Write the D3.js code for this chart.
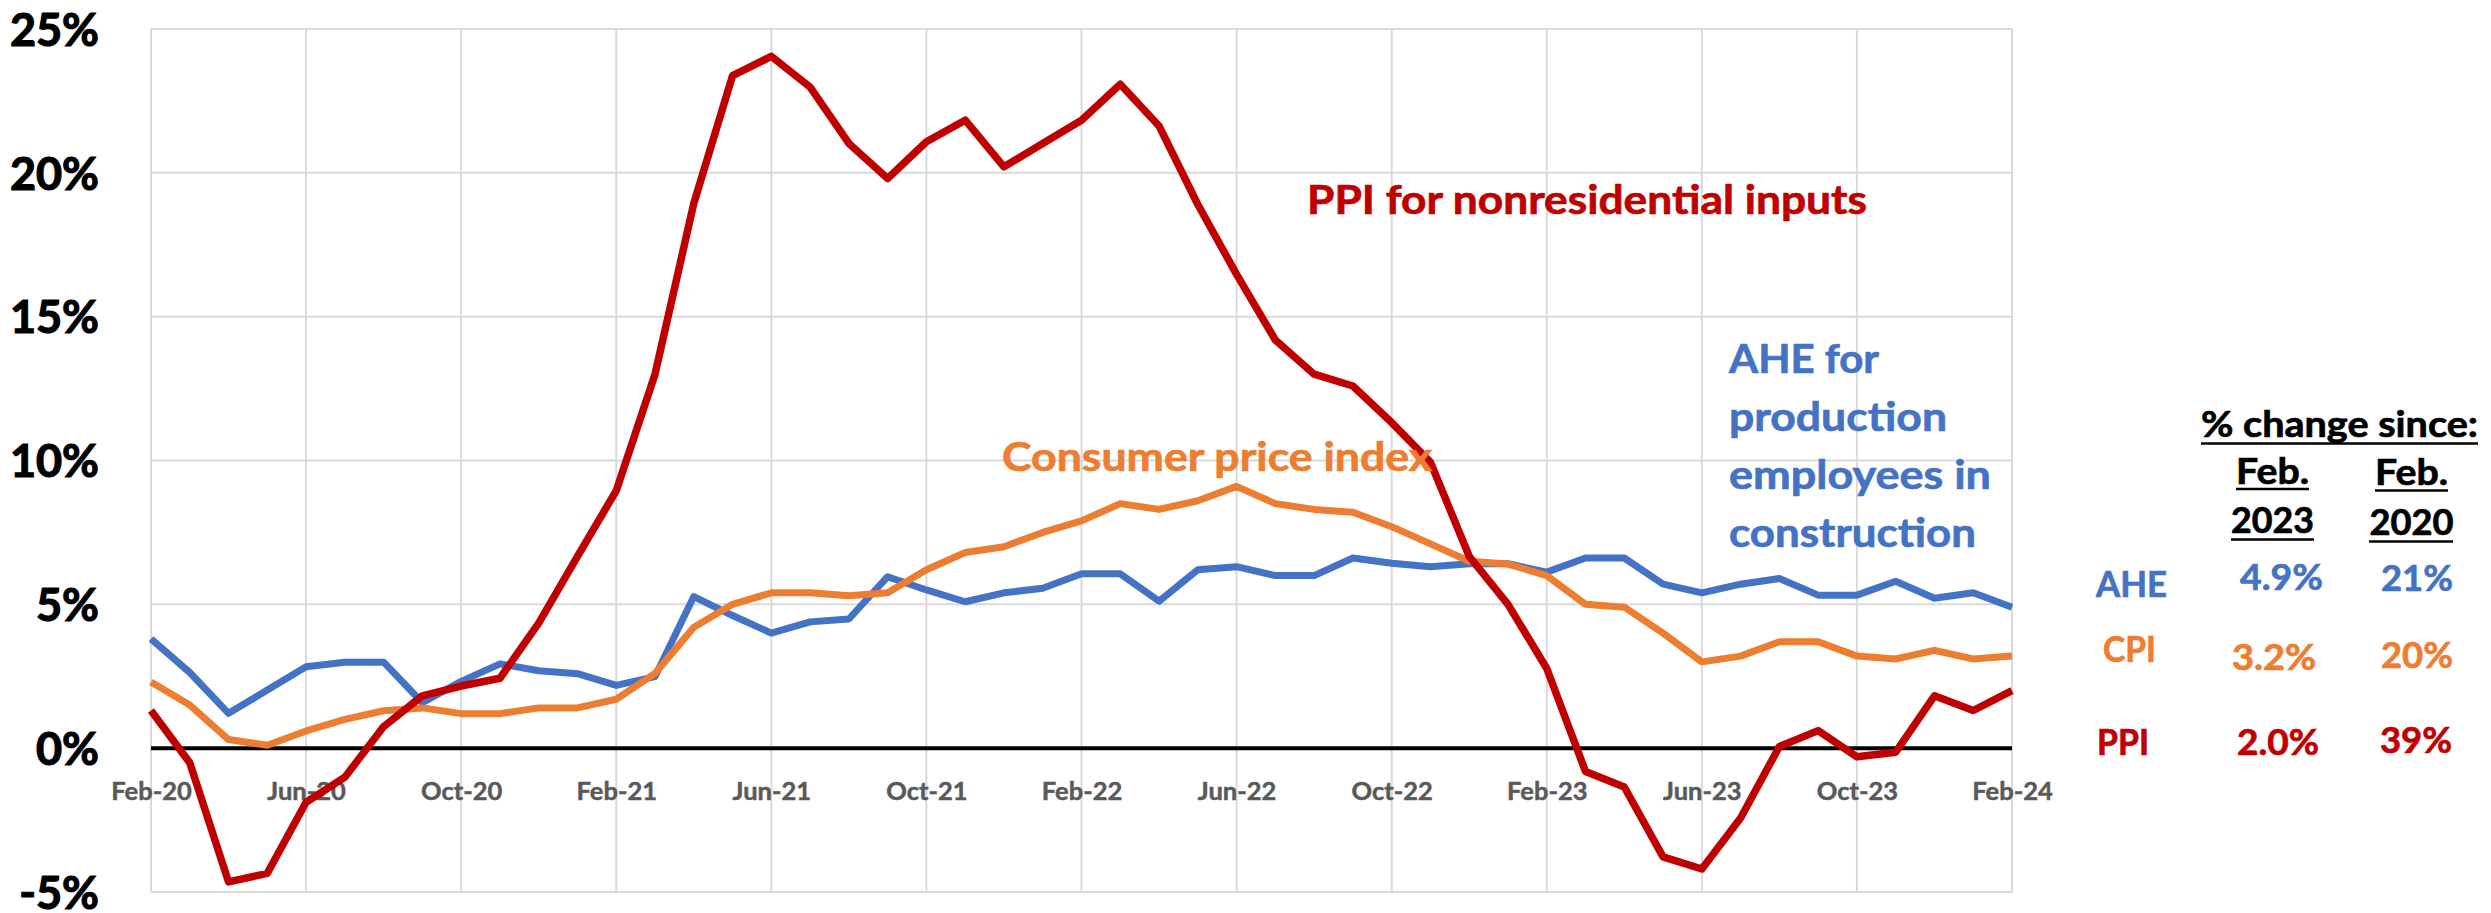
<!DOCTYPE html>
<html>
<head>
<meta charset="utf-8">
<script src="https://cdn.jsdelivr.net/npm/d3@7"></script>
<style>
  html, body { margin: 0; padding: 0; background: #ffffff; }
  svg { display: block; }
  text { font-family: Lato, "Noto Sans", sans-serif; font-weight: 700; }
</style>
</head>
<body>
<svg id="chart" width="2491" height="913"></svg>
<script>
// ---------------- DATA ----------------
const months = [
  "Feb-20","Mar-20","Apr-20","May-20","Jun-20","Jul-20","Aug-20","Sep-20","Oct-20","Nov-20","Dec-20",
  "Jan-21","Feb-21","Mar-21","Apr-21","May-21","Jun-21","Jul-21","Aug-21","Sep-21","Oct-21","Nov-21","Dec-21",
  "Jan-22","Feb-22","Mar-22","Apr-22","May-22","Jun-22","Jul-22","Aug-22","Sep-22","Oct-22","Nov-22","Dec-22",
  "Jan-23","Feb-23","Mar-23","Apr-23","May-23","Jun-23","Jul-23","Aug-23","Sep-23","Oct-23","Nov-23","Dec-23",
  "Jan-24","Feb-24"
];

// Average hourly earnings, production employees in construction (y/y %)
const aheValues = [
  3.80, 2.63, 1.21, 2.02, 2.83, 2.99, 2.99, 1.58, 2.32, 2.93, 2.69,
  2.59, 2.18, 2.49, 5.27, 4.61, 4.00, 4.39, 4.49, 5.96, 5.50, 5.09, 5.40,
  5.56, 6.06, 6.06, 5.11, 6.20, 6.31, 6.00, 6.00, 6.61, 6.43, 6.31, 6.41,
  6.41, 6.12, 6.61, 6.61, 5.70, 5.40, 5.70, 5.90, 5.32, 5.32, 5.80, 5.21,
  5.40, 4.90
];

// Consumer price index (y/y %)
const cpiValues = [
  2.3, 1.5, 0.3, 0.1, 0.6, 1.0, 1.3, 1.4, 1.2, 1.2, 1.4,
  1.4, 1.7, 2.6, 4.2, 5.0, 5.4, 5.4, 5.3, 5.4, 6.2, 6.8, 7.0,
  7.5, 7.9, 8.5, 8.3, 8.6, 9.1, 8.5, 8.3, 8.2, 7.7, 7.1, 6.5,
  6.4, 6.0, 5.0, 4.9, 4.0, 3.0, 3.2, 3.7, 3.7, 3.2, 3.1, 3.4,
  3.1, 3.2
];

// PPI for nonresidential construction inputs (y/y %)
const ppiValues = [
  1.31, -0.51, -4.65, -4.35, -1.88, -1.01, 0.75, 1.82, 2.16, 2.43, 4.35,
  6.67, 8.95, 13.0, 18.94, 23.38, 24.05, 22.98, 21.02, 19.8, 21.08, 21.83, 20.21,
  21.02, 21.83, 23.08, 21.63, 18.9, 16.47, 14.19, 13.0, 12.59, 11.32, 9.94, 6.67,
  5.0, 2.77, -0.81, -1.35, -3.78, -4.20, -2.43, 0.06, 0.61, -0.30, -0.14, 1.82,
  1.31, 2.0
];

const xTickLabels = ["Feb-20","Jun-20","Oct-20","Feb-21","Jun-21","Oct-21","Feb-22","Jun-22","Oct-22","Feb-23","Jun-23","Oct-23","Feb-24"];
const yTickValues = [-5, 0, 5, 10, 15, 20, 25];
const yTickLabels = ["-5%", "0%", "5%", "10%", "15%", "20%", "25%"];

const seriesNames = ["AHE", "CPI", "PPI"];
const since2023 = ["4.9%", "3.2%", "2.0%"];
const since2020 = ["21%", "20%", "39%"];
const tableHeader = "% change since:";
const colHeads = [["Feb.", "2023"], ["Feb.", "2020"]];

const labelPPI = "PPI for nonresidential inputs";
const labelCPI = "Consumer price index";
const labelAHE = ["AHE for", "production", "employees in", "construction"];

// ---------------- STYLE / LAYOUT ----------------
const colors = { AHE: "#4472C4", CPI: "#ED7D31", PPI: "#C00000" };
const svg = d3.select("#chart");

const x = d3.scalePoint().domain(months).range([151, 2012]).padding(0);
const y = d3.scaleLinear().domain([-5, 25]).range([892, 29]);

const x0 = x(months[0]), x1 = x(months[months.length - 1]);

// gridlines
const grid = svg.append("g");
grid.selectAll("line.h").data(yTickValues).join("line")
  .attr("x1", x0).attr("x2", x1)
  .attr("y1", d => y(d)).attr("y2", d => y(d))
  .attr("stroke", "#d9d9d9").attr("stroke-width", 2);
grid.selectAll("line.v").data(xTickLabels).join("line")
  .attr("x1", d => x(d)).attr("x2", d => x(d))
  .attr("y1", y(25)).attr("y2", y(-5))
  .attr("stroke", "#d9d9d9").attr("stroke-width", 2);

// y axis labels
const yAxis = d3.axisLeft(y).tickValues(yTickValues)
  .tickFormat((d, i) => yTickLabels[i]).tickSize(0).tickPadding(52);
const gy = svg.append("g").attr("transform", `translate(${x0},0)`).call(yAxis);
gy.select(".domain").remove();
gy.selectAll("text")
  .attr("dy", "0.36em")
  .style("font-family", "Lato, 'Noto Sans', sans-serif")
  .style("font-weight", 700)
  .style("font-size", "45px")
  .attr("fill", "#000000")
  .attr("stroke", "#000000").attr("stroke-width", 1.2);

// x axis labels
const xAxis = d3.axisBottom(x).tickValues(xTickLabels).tickSize(0);
const gx = svg.append("g").attr("transform", `translate(0,${y(0)})`).call(xAxis);
gx.select(".domain").remove();
gx.selectAll("text")
  .attr("y", 52).attr("dy", 0)
  .style("font-family", "Lato, 'Noto Sans', sans-serif")
  .style("font-weight", 700)
  .style("font-size", "25.5px")
  .attr("fill", "#595959")
  .attr("stroke", "#595959").attr("stroke-width", 0.5);

// zero line
svg.append("line")
  .attr("x1", x0).attr("x2", x1)
  .attr("y1", y(0)).attr("y2", y(0))
  .attr("stroke", "#000000").attr("stroke-width", 4);

// series lines
const line = d3.line().x((d, i) => x(months[i])).y(d => y(d));
const series = [
  { key: "AHE", values: aheValues, w: 7 },
  { key: "CPI", values: cpiValues, w: 7 },
  { key: "PPI", values: ppiValues, w: 7.5 }
];
svg.append("g").selectAll("path").data(series).join("path")
  .attr("d", d => line(d.values))
  .attr("fill", "none")
  .attr("stroke", d => colors[d.key])
  .attr("stroke-width", d => d.w)
  .attr("stroke-linejoin", "round")
  .attr("stroke-linecap", "butt");

// annotations
function txt(str, xx, yy, opts) {
  const c = opts.fill || "#000";
  const t = svg.append("text").attr("x", xx).attr("y", yy).text(str)
    .attr("fill", c)
    .attr("stroke", c).attr("stroke-width", 0.7)
    .style("font-size", (opts.size || 41) + "px")
    .attr("text-anchor", opts.anchor || "start");
  if (opts.len) t.attr("textLength", opts.len).attr("lengthAdjust", "spacingAndGlyphs");
  return t;
}

txt(labelPPI, 1307, 213.5, { fill: colors.PPI, len: 560 });
txt(labelCPI, 1002, 471, { fill: colors.CPI, len: 430 });

const aheLayout = [ { y: 373, len: 150 }, { y: 431, len: 218 }, { y: 489, len: 262 }, { y: 547, len: 247 } ];
labelAHE.forEach((s, i) => txt(s, 1729, aheLayout[i].y, { fill: colors.AHE, len: aheLayout[i].len }));

// table
function underline(xa, xb, yy) {
  svg.append("line").attr("x1", xa).attr("x2", xb).attr("y1", yy).attr("y2", yy)
    .attr("stroke", "#000").attr("stroke-width", 2.5);
}
txt(tableHeader, 2201, 437, { size: 36, len: 277 });
underline(2201, 2478, 443.5);

const colLayout = [
  { cx: 2272.5, y1: 483.5, y2: 533, u1: [2236, 2309, 489], u2: [2231, 2314, 539.5], w1: 73, w2: 83 },
  { cx: 2411.5, y1: 485, y2: 535, u1: [2375, 2448, 490.5], u2: [2369, 2453, 541.5], w1: 73, w2: 84 }
];
colHeads.forEach((c, i) => {
  const L = colLayout[i];
  txt(c[0], L.cx, L.y1, { size: 36, anchor: "middle", len: L.w1 });
  underline(L.u1[0], L.u1[1], L.u1[2]);
  txt(c[1], L.cx, L.y2, { size: 36, anchor: "middle", len: L.w2 });
  underline(L.u2[0], L.u2[1], L.u2[2]);
});

const rowLayout = [
  { lx: 2096, ly: 597, lw: 71, v1x: 2240, v1y: 590, v1w: 83, v2x: 2381, v2y: 591, v2w: 72 },
  { lx: 2103, ly: 662, lw: 53, v1x: 2232, v1y: 670, v1w: 84, v2x: 2381, v2y: 668, v2w: 72 },
  { lx: 2097, ly: 755, lw: 52, v1x: 2237, v1y: 755, v1w: 82, v2x: 2380, v2y: 753, v2w: 72 }
];
seriesNames.forEach((n, i) => {
  const L = rowLayout[i];
  const c = colors[n];
  txt(n, L.lx, L.ly, { size: 36, fill: c, len: L.lw });
  txt(since2023[i], L.v1x, L.v1y, { size: 36, fill: c, len: L.v1w });
  txt(since2020[i], L.v2x, L.v2y, { size: 36, fill: c, len: L.v2w });
});
</script>
</body>
</html>
